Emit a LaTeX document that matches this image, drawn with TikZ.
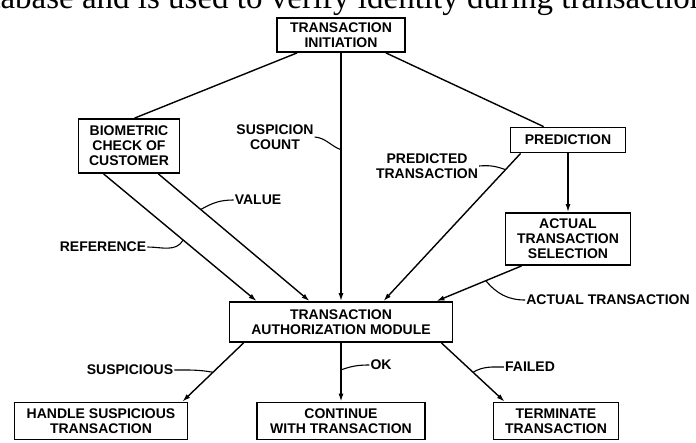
\documentclass[tikz,border=0pt]{standalone}
\usepackage{fontspec}
\setmainfont{Liberation Serif}
\setsansfont{Liberation Sans}
\usetikzlibrary{arrows.meta}
\newcommand\diagfont{\sffamily\bfseries\fontsize{14}{15}\selectfont}
\tikzset{block/.style={draw,line width=1.8pt,align=center,inner sep=0pt,font=\diagfont},tag/.style={align=center,inner sep=1pt,font=\diagfont},link/.style={line width=1.4pt},flow/.style={link,-{Latex[length=8pt,width=5pt]}},leader/.style={line width=1.1pt}}

\begin{document}
\begin{tikzpicture}[x=1pt,y=-1pt]
 \useasboundingbox (0,0) rectangle (696,442);
 % running text of the page, cut by the frame
 \begin{scope}
   \clip (0,0) rectangle (696,442);
   \node[anchor=base west,inner sep=0pt,font=\fontsize{33}{36}\selectfont] (pagetext) at (-40,8) {database and is used to verify identity during transaction};
 \end{scope}
 % boxes
 \node[block,minimum width=128,minimum height=34] (init) at (341,35) {TRANSACTION\\INITIATION};
 \node[block,minimum width=101,minimum height=54] (bio) at (129,146) {BIOMETRIC\\CHECK OF\\CUSTOMER};
 \node[block,minimum width=115,minimum height=25] (pred) at (568,140) {PREDICTION};
 \node[block,minimum width=125,minimum height=52] (ats) at (568,239) {ACTUAL\\TRANSACTION\\SELECTION};
 \node[block,minimum width=223,minimum height=40] (tam) at (341,322) {TRANSACTION\\AUTHORIZATION MODULE};
 \node[block,minimum width=173,minimum height=37] (hst) at (101,421) {HANDLE SUSPICIOUS\\TRANSACTION};
 \node[block,minimum width=168,minimum height=37] (cwt) at (341,421) {CONTINUE\\WITH TRANSACTION};
 \node[block,minimum width=125,minimum height=37] (tt) at (556,421) {TERMINATE\\TRANSACTION};
 % from the initiation
 \draw[link] ([xshift=21]init.south west) -- ([xshift=57]bio.north west);
 \draw[link] ([xshift=-20]init.south east) -- ([xshift=34]pred.north west);
 \draw[flow] (init.south) -- coordinate[pos=.39] (sc) (tam.north);
 % into the authorization module
 \draw[flow] ([xshift=26]bio.south west) -- coordinate[pos=.52] (ref) ([xshift=28]tam.north west);
 \draw[flow] ([xshift=-22]bio.south east) -- coordinate[pos=.28] (val) ([xshift=81]tam.north west);
 \draw[flow] ([xshift=11]pred.south west) -- coordinate[pos=.11] (pt) ([xshift=-70]tam.north east);
 \draw[flow] (pred) -- (ats);
 \draw[flow] ([xshift=17]ats.south west) -- coordinate[pos=.42] (at) ([xshift=-17]tam.north east);
 % outcomes
 \draw[flow] ([xshift=15]tam.south west) -- coordinate[pos=.5] (sus) ([xshift=-6]hst.north east);
 \draw[flow] (tam) -- coordinate[pos=.46] (ok) (cwt);
 \draw[flow] ([xshift=-12]tam.south east) -- coordinate[pos=.5] (fl) ([xshift=12]tt.north west);
 % labels with leaders
 \node[tag] (sclab) at (275,137) {SUSPICION\\COUNT};
 \draw[leader] (sclab.east) to[out=-5,in=160] (sc);
 \node[tag] (vallab) at (258,200) {VALUE};
 \draw[leader] (vallab.west) to[out=180,in=30] (val);
 \node[tag] (reflab) at (103,247) {REFERENCE};
 \draw[leader] (reflab.east) to[out=0,in=240] (ref);
 \node[tag] (ptlab) at (427,166) {PREDICTED\\TRANSACTION};
 \draw[leader] (ptlab.east) to[out=5,in=160] (pt);
 \node[tag] (atlab) at (608,300) {ACTUAL TRANSACTION};
 \draw[leader] (atlab.west) to[out=180,in=-50] (at);
 \node[tag] (suslab) at (130,370) {SUSPICIOUS};
 \draw[leader] (suslab.east) to[out=0,in=170] (sus);
 \node[tag] (oklab) at (381,365) {OK};
 \draw[leader] (oklab.west) to[out=180,in=20] (ok);
 \node[tag] (fllab) at (530,367) {FAILED};
 \draw[leader] (fllab.west) to[out=180,in=30] (fl);
\end{tikzpicture}
\end{document}
